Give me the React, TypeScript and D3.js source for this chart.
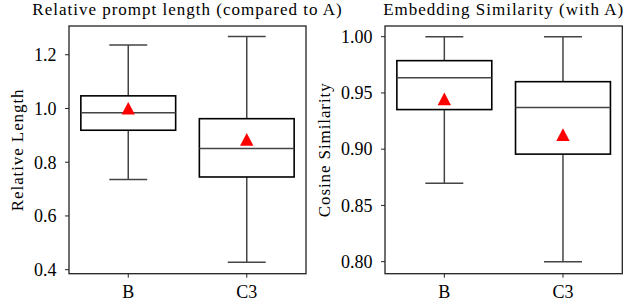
import * as d3 from 'd3';

// box stats
const categories = ['B', 'C3'];

const lenWhiskerLow = [0.736, 0.428];
const lenQ1 = [0.919, 0.745];
const lenMedian = [0.984, 0.851];
const lenQ3 = [1.047, 0.962];
const lenWhiskerHigh = [1.236, 1.268];
const lenMean = [1.001, 0.885];
const lenTicks = [0.4, 0.6, 0.8, 1.0, 1.2];

const simWhiskerLow = [0.8696, 0.8];
const simQ1 = [0.9352, 0.8956];
const simMedian = [0.9636, 0.937];
const simQ3 = [0.9787, 0.96];
const simWhiskerHigh = [1.0, 1.0];
const simMean = [0.9447, 0.9129];
const simTicks = [0.8, 0.85, 0.9, 0.95, 1.0];

const FONT = '"Liberation Serif", "DejaVu Serif", serif';
const WHISKER = '#444444';

// matplotlib-like '^' marker, centred on its bounding box
function triangle(w: number, h: number) {
  const p = d3.path();
  p.moveTo(0, -h / 2);
  p.lineTo(w / 2, h / 2);
  p.lineTo(-w / 2, h / 2);
  p.closePath();
  return p.toString();
}

type PanelProps = {
  x0: number;
  x1: number;
  y0: number;
  y1: number;
  domain: [number, number];
  ticks: number[];
  fmt: (v: number) => string;
  title: string;
  ylabel: string;
  labelOffset: number;
  lo: number[];
  q1: number[];
  med: number[];
  q3: number[];
  hi: number[];
  mean: number[];
};

function Panel(p: PanelProps) {
  const x = d3
    .scaleBand<string>()
    .domain(categories)
    .range([p.x0, p.x1])
    .paddingInner(0.2)
    .paddingOuter(0.1);
  const y = d3.scaleLinear().domain(p.domain).range([p.y1, p.y0]);
  const bw = x.bandwidth();
  const cap = bw * 0.4;
  const tri = triangle(13.4, 12.6);

  return (
    <g>
      <text
        x={(p.x0 + p.x1) / 2}
        y={15}
        textAnchor="middle"
        fontFamily={FONT}
        fontSize={17}
        letterSpacing={1}
      >
        {p.title}
      </text>
      <text
        transform={`translate(${p.x0 - p.labelOffset},${(p.y0 + p.y1) / 2}) rotate(-90)`}
        textAnchor="middle"
        fontFamily={FONT}
        fontSize={17}
        letterSpacing={0.9}
      >
        {p.ylabel}
      </text>

      {categories.map((c, i) => {
        const cx = (x(c) || 0) + bw / 2;
        return (
          <g key={c}>
            <line x1={cx} x2={cx} y1={y(p.q3[i])} y2={y(p.hi[i])} stroke={WHISKER} strokeWidth={1.5} />
            <line x1={cx} x2={cx} y1={y(p.q1[i])} y2={y(p.lo[i])} stroke={WHISKER} strokeWidth={1.5} />
            <line x1={cx - cap / 2} x2={cx + cap / 2} y1={y(p.hi[i])} y2={y(p.hi[i])} stroke={WHISKER} strokeWidth={1.5} />
            <line x1={cx - cap / 2} x2={cx + cap / 2} y1={y(p.lo[i])} y2={y(p.lo[i])} stroke={WHISKER} strokeWidth={1.5} />
            <rect
              x={x(c)}
              y={y(p.q3[i])}
              width={bw}
              height={y(p.q1[i]) - y(p.q3[i])}
              fill="white"
              stroke="black"
              strokeWidth={1.6}
            />
            <line x1={x(c)} x2={(x(c) || 0) + bw} y1={y(p.med[i])} y2={y(p.med[i])} stroke={WHISKER} strokeWidth={1.5} />
            <path d={tri} transform={`translate(${cx},${y(p.mean[i])})`} fill="#ff0000" />
          </g>
        );
      })}

      <rect x={p.x0} y={p.y0} width={p.x1 - p.x0} height={p.y1 - p.y0} fill="none" stroke="#222" strokeWidth={1.3} />

      {p.ticks.map((t) => (
        <g key={t} transform={`translate(${p.x0},${y(t)})`}>
          <line x1={-4} x2={0} stroke="#222" strokeWidth={1} />
          <text x={-12.5} dy="0.35em" textAnchor="end" fontFamily={FONT} fontSize={18}>
            {p.fmt(t)}
          </text>
        </g>
      ))}
      {categories.map((c) => (
        <g key={c} transform={`translate(${(x(c) || 0) + bw / 2},${p.y1})`}>
          <line y1={0} y2={4} stroke="#222" strokeWidth={1} />
          <text y={24.5} textAnchor="middle" fontFamily={FONT} fontSize={18}>
            {c}
          </text>
        </g>
      ))}
    </g>
  );
}

export default function App() {
  return (
    <svg
      width={640}
      height={306}
      viewBox="0 0 640 306"
      style={{ position: 'absolute', left: 0, top: 0, background: 'white' }}
    >
      <Panel
        x0={69}
        x1={306}
        y0={26}
        y1={273.7}
        domain={[0.385, 1.307]}
        ticks={lenTicks}
        fmt={d3.format('.1f')}
        title="Relative prompt length (compared to A)"
        ylabel="Relative Length"
        labelOffset={46}
        lo={lenWhiskerLow}
        q1={lenQ1}
        med={lenMedian}
        q3={lenQ3}
        hi={lenWhiskerHigh}
        mean={lenMean}
      />
      <Panel
        x0={385}
        x1={622.3}
        y0={26}
        y1={273.7}
        domain={[0.7893, 1.0095]}
        ticks={simTicks}
        fmt={d3.format('.2f')}
        title="Embedding Similarity (with A)"
        ylabel="Cosine Similarity"
        labelOffset={55}
        lo={simWhiskerLow}
        q1={simQ1}
        med={simMedian}
        q3={simQ3}
        hi={simWhiskerHigh}
        mean={simMean}
      />
    </svg>
  );
}
